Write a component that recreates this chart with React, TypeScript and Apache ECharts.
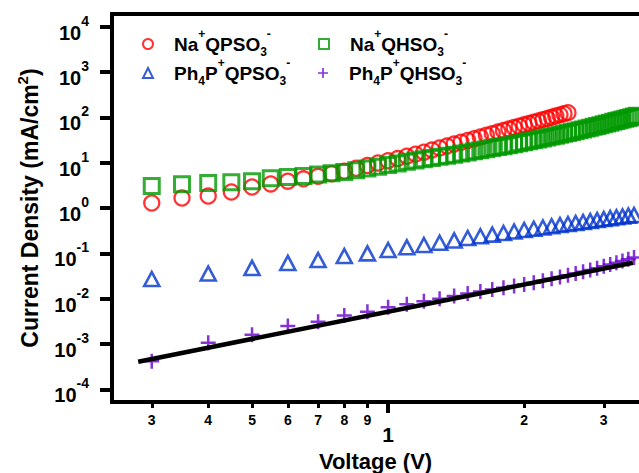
import React, { useEffect, useRef } from 'react';
import * as echarts from 'echarts';

const FONT = "'Liberation Sans', Arial, Helvetica, sans-serif";

const seriesNames = ['Na+QPSO3-', 'Na+QHSO3-', 'Ph4P+QPSO3-', 'Ph4P+QHSO3-'];
const legendRich = [
  '{g| }{m|Na}{p|+}{m|QPSO}{b|3}{p|-}',
  '{g| }{m|Na}{p|+}{m|QHSO}{b|3}{p|-}',
  '{g| }{m|Ph}{b|4}{m|P}{p|+}{m|QPSO}{b|3}{p|-}',
  '{g| }{m|Ph}{b|4}{m|P}{p|+}{m|QHSO}{b|3}{p|-}',
];
const colors = ['#ff0000', '#009900', '#0033cc', '#6600cc'];

const redV = [0.30, 0.35, 0.40, 0.45, 0.50, 0.55, 0.60, 0.65, 0.70, 0.75, 0.80, 0.85, 0.90, 0.95, 1.00, 1.05, 1.10, 1.15, 1.20, 1.25, 1.30, 1.35, 1.40, 1.45, 1.50, 1.55, 1.60, 1.65, 1.70, 1.75, 1.80, 1.85, 1.90, 1.95, 2.00, 2.05, 2.10, 2.15, 2.20, 2.25, 2.30, 2.35, 2.40, 2.45, 2.50];
const redJ = [1.29, 1.66, 1.84, 2.25, 2.90, 3.40, 3.90, 4.40, 5.00, 5.70, 6.50, 7.50, 8.60, 9.80, 11.0, 12.3, 13.8, 15.4, 17.0, 18.9, 21.0, 23.2, 25.6, 28.2, 30.9, 33.8, 36.9, 40.2, 43.6, 47.2, 51.0, 55.0, 59.2, 63.6, 68.2, 73.0, 78.0, 83.2, 88.7, 94.4, 100.3, 106.5, 112.9, 119.6, 126.5];

const greenV = [0.30, 0.35, 0.40, 0.45, 0.50, 0.55, 0.60, 0.65, 0.70, 0.75, 0.80, 0.85, 0.90, 0.95, 1.00, 1.05, 1.10, 1.15, 1.20, 1.25, 1.30, 1.35, 1.40, 1.45, 1.50, 1.55, 1.60, 1.65, 1.70, 1.75, 1.80, 1.85, 1.90, 1.95, 2.00, 2.05, 2.10, 2.15, 2.20, 2.25, 2.30, 2.35, 2.40, 2.45, 2.50, 2.55, 2.60, 2.65, 2.70, 2.75, 2.80, 2.85, 2.90, 2.95, 3.00, 3.05, 3.10, 3.15, 3.20, 3.25, 3.30, 3.35, 3.40, 3.45, 3.50, 3.55];
const greenJ = [3.05, 3.35, 3.55, 3.70, 3.90, 4.50, 4.80, 5.10, 5.50, 5.80, 6.20, 6.80, 7.40, 8.10, 8.90, 9.60, 10.4, 11.1, 11.9, 12.6, 13.4, 14.2, 15.0, 15.9, 16.8, 17.8, 18.8, 19.8, 20.9, 22.0, 23.1, 24.3, 25.5, 26.8, 28.1, 29.5, 31.0, 32.5, 34.1, 35.8, 37.5, 39.3, 41.2, 43.1, 45.1, 47.2, 49.4, 51.6, 54.0, 56.4, 58.9, 61.5, 64.2, 67.0, 69.9, 72.9, 76.0, 79.2, 82.5, 85.9, 89.4, 93.0, 96.7, 100.5, 104.4, 108.4];

const blueV = [0.3, 0.4, 0.5, 0.6, 0.7, 0.8, 0.9, 1.0, 1.1, 1.2, 1.3, 1.4, 1.5, 1.6, 1.7, 1.8, 1.9, 2.0, 2.1, 2.2, 2.3, 2.4, 2.5, 2.6, 2.7, 2.8, 2.9, 3.0, 3.1, 3.2, 3.3, 3.4, 3.5];
const blueJ = [0.0273, 0.036, 0.0478, 0.0617, 0.0716, 0.0877, 0.100, 0.119, 0.136, 0.153, 0.171, 0.193, 0.218, 0.238, 0.259, 0.281, 0.304, 0.327, 0.350, 0.373, 0.397, 0.420, 0.443, 0.466, 0.490, 0.515, 0.542, 0.570, 0.598, 0.625, 0.652, 0.678, 0.703];

const purpleV = [0.3, 0.4, 0.5, 0.6, 0.7, 0.8, 0.9, 1.0, 1.1, 1.2, 1.3, 1.4, 1.5, 1.6, 1.7, 1.8, 1.9, 2.0, 2.1, 2.2, 2.3, 2.4, 2.5, 2.6, 2.7, 2.8, 2.9, 3.0, 3.1, 3.2, 3.3, 3.4, 3.5];
const purpleJ = [4.2e-4, 1.07e-3, 1.6e-3, 2.5e-3, 3.1e-3, 4.3e-3, 5.2e-3, 6.5e-3, 7.6e-3, 8.8e-3, 1.0e-2, 1.15e-2, 1.3e-2, 1.45e-2, 1.6e-2, 1.75e-2, 1.9e-2, 2.05e-2, 2.25e-2, 2.5e-2, 2.75e-2, 3.0e-2, 3.3e-2, 3.6e-2, 3.95e-2, 4.3e-2, 4.7e-2, 5.2e-2, 5.7e-2, 6.2e-2, 6.8e-2, 7.4e-2, 8.1e-2];

const fitV = [0.28, 3.48];
const fitJ = [4.1e-4, 0.062];

const xMin = 0.245;
const xMax = 3.59;
const yMin = 5.3e-5;
const yMax = 18880;

const xLabelValues = [0.3, 0.4, 0.5, 0.6, 0.7, 0.8, 0.9, 1, 2, 3];
const xLabelTexts = ['3', '4', '5', '6', '7', '8', '9', '1', '2', '3'];
const xMinorTicks = [0.3, 0.4, 0.5, 0.6, 0.7, 0.8, 0.9, 2, 3];
const xMajorTicks = [1];
const yTickValues = [1e-4, 1e-3, 1e-2, 1e-1, 1, 10, 100, 1000, 10000];
const yExponents = ['-4', '-3', '-2', '-1', '0', '1', '2', '3', '4'];

const PLUS = 'path://M5,0H7V5H12V7H7V12H5V7H0V5H5Z';

function zip(a: number[], b: number[]) {
  return a.map((v, i) => [v, b[i]]);
}

function nearestIndex(arr: number[], v: number) {
  let best = 0;
  for (let i = 1; i < arr.length; i++) {
    if (Math.abs(Math.log(arr[i] / v)) < Math.abs(Math.log(arr[best] / v))) best = i;
  }
  return best;
}

const legendTextStyle = {
  fontFamily: FONT,
  color: '#000',
  rich: {
    g: { width: 16, fontSize: 12 },
    m: { fontSize: 19, fontWeight: 'bold', fontFamily: FONT, color: '#000' },
    p: { fontSize: 12, fontWeight: 'bold', fontFamily: FONT, color: '#000', padding: [0, 0, 20, 0] },
    b: { fontSize: 12, fontWeight: 'bold', fontFamily: FONT, color: '#000', padding: [16, 0, 0, 0] },
  },
};

const legendIcons = [
  { icon: 'circle', itemStyle: { color: 'rgba(0,0,0,0)', borderColor: colors[0], borderWidth: 2 } },
  { icon: 'rect', itemStyle: { color: 'rgba(0,0,0,0)', borderColor: colors[1], borderWidth: 2 } },
  { icon: 'triangle', itemStyle: { color: 'rgba(0,0,0,0)', borderColor: colors[2], borderWidth: 2 } },
  { icon: PLUS, itemStyle: { color: colors[3], borderWidth: 0 } },
];
const legendPos = [
  { left: 142, top: 28 },
  { left: 318, top: 28 },
  { left: 142, top: 57 },
  { left: 318, top: 57 },
];

function makeLegend(i: number) {
  return {
    show: true,
    orient: 'horizontal',
    left: legendPos[i].left,
    top: legendPos[i].top,
    padding: 0,
    itemWidth: 10,
    itemHeight: 10,
    selectedMode: false,
    data: [{ name: seriesNames[i], ...legendIcons[i] }],
    formatter: () => legendRich[i],
    textStyle: legendTextStyle,
  };
}

const axisLineStyle = { color: '#000', width: 4, cap: 'square' };

export default function App() {
  const ref = useRef<HTMLDivElement>(null);
  useEffect(() => {
    const chart = echarts.init(ref.current!, null, { renderer: 'svg' });
    const option: any = {
      animation: false,
      backgroundColor: '#ffffff',
      textStyle: { fontFamily: FONT },
      grid: { left: 112, right: 0, top: 14, bottom: 71, outerBoundsMode: 'none', containLabel: false },
      legend: [makeLegend(0), makeLegend(1), makeLegend(2), makeLegend(3)],
      xAxis: [
        {
          type: 'log',
          min: xMin,
          max: xMax,
          position: 'bottom',
          name: 'Voltage (V)',
          nameLocation: 'middle',
          nameGap: 48,
          nameMoveOverlap: false,
          nameTextStyle: { fontSize: 22, fontWeight: 'bold', color: '#000', fontFamily: FONT },
          axisLine: { show: true, lineStyle: axisLineStyle },
          axisTick: { show: true, customValues: xMinorTicks, length: 6, lineStyle: { color: '#000', width: 3 } },
          axisLabel: {
            show: true,
            customValues: xLabelValues,
            margin: 11,
            formatter: (v: number) => {
              const i = nearestIndex(xLabelValues, v);
              return xMajorTicks.indexOf(xLabelValues[i]) >= 0 ? `{b|${xLabelTexts[i]}}` : `{s|${xLabelTexts[i]}}`;
            },
            rich: {
              s: { fontSize: 14, fontWeight: 'bold', color: '#000', fontFamily: FONT },
              b: { fontSize: 21, fontWeight: 'bold', color: '#000', fontFamily: FONT, padding: [11, 0, 0, 0] },
            },
          },
          splitLine: { show: false },
          minorTick: { show: false },
        },
        {
          type: 'log',
          min: xMin,
          max: xMax,
          position: 'bottom',
          axisLine: { show: false },
          axisTick: { show: true, customValues: xMajorTicks, length: 11, lineStyle: { color: '#000', width: 4 } },
          axisLabel: { show: false },
          splitLine: { show: false },
        },
        {
          type: 'log',
          min: xMin,
          max: xMax,
          position: 'top',
          axisLine: { show: true, lineStyle: axisLineStyle },
          axisTick: { show: false },
          axisLabel: { show: false },
          splitLine: { show: false },
        },
      ],
      yAxis: [
        {
          type: 'log',
          min: yMin,
          max: yMax,
          position: 'left',
          name: '{t|Current Density (mA/cm}{s|2}{t|)}',
          nameLocation: 'middle',
          nameGap: 68,
          nameMoveOverlap: false,
          nameTextStyle: {
            fontSize: 23,
            fontWeight: 'bold',
            color: '#000',
            fontFamily: FONT,
            rich: {
              t: { fontSize: 23, fontWeight: 'bold', color: '#000', fontFamily: FONT },
              s: { fontSize: 15, fontWeight: 'bold', color: '#000', fontFamily: FONT, padding: [0, 0, 14, 0] },
            },
          },
          axisLine: { show: true, lineStyle: axisLineStyle },
          axisTick: { show: true, customValues: yTickValues, length: 12, lineStyle: { color: '#000', width: 4 } },
          axisLabel: {
            show: true,
            customValues: yTickValues,
            margin: 23,
            formatter: (v: number) => {
              const i = nearestIndex(yTickValues, v);
              return `{m|10}{s|${yExponents[i]}}`;
            },
            rich: {
              m: { fontSize: 20, fontWeight: 'bold', color: '#000', fontFamily: FONT, padding: [12, 0, 0, 0] },
              s: { fontSize: 14, fontWeight: 'bold', color: '#000', fontFamily: FONT, padding: [0, 0, 12, 0] },
            },
          },
          splitLine: { show: false },
          minorTick: { show: false },
        },
      ],
      series: [
        {
          type: 'scatter',
          name: seriesNames[0],
          data: zip(redV, redJ),
          symbol: 'circle',
          symbolSize: 15,
          itemStyle: { color: 'rgba(0,0,0,0)', borderColor: colors[0], borderWidth: 2.3 },
          emphasis: { disabled: true },
        },
        {
          type: 'scatter',
          name: seriesNames[1],
          data: zip(greenV, greenJ),
          symbol: 'rect',
          symbolSize: 15,
          itemStyle: { color: 'rgba(0,0,0,0)', borderColor: colors[1], borderWidth: 3 },
          emphasis: { disabled: true },
        },
        {
          type: 'scatter',
          name: seriesNames[2],
          data: zip(blueV, blueJ),
          symbol: 'triangle',
          symbolSize: [15, 14],
          itemStyle: { color: 'rgba(0,0,0,0)', borderColor: colors[2], borderWidth: 2.6 },
          emphasis: { disabled: true },
        },
        {
          type: 'scatter',
          name: seriesNames[3],
          data: zip(purpleV, purpleJ),
          symbol: PLUS,
          symbolSize: 15,
          itemStyle: { color: colors[3], borderWidth: 0 },
          emphasis: { disabled: true },
        },
        {
          type: 'line',
          name: 'fit',
          data: zip(fitV, fitJ),
          symbol: 'none',
          lineStyle: { color: '#000', width: 4.5 },
          emphasis: { disabled: true },
          z: 3,
        },
      ],
    };
    chart.setOption(option);
    return () => chart.dispose();
  }, []);
  return <div ref={ref} style={{ position: 'fixed', left: 0, top: 0, width: 639, height: 473 }} />;
}
